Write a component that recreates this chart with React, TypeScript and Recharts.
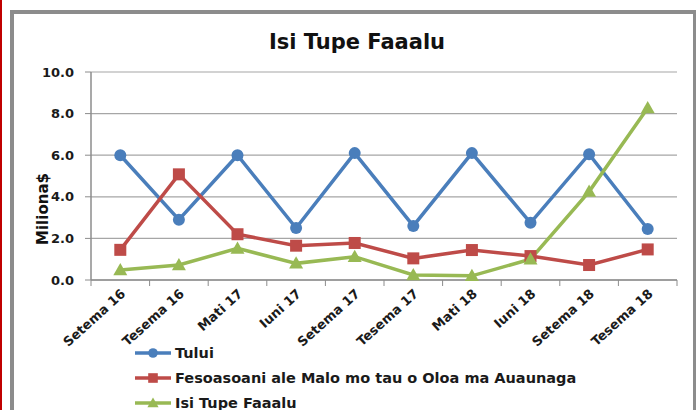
import React from 'react';
import { LineChart, Line, XAxis, YAxis, CartesianGrid, Legend } from 'recharts';

const categories = ['Setema 16', 'Tesema 16', 'Mati 17', 'Iuni 17', 'Setema 17', 'Tesema 17', 'Mati 18', 'Iuni 18', 'Setema 18', 'Tesema 18'];
const tului = [6.0, 2.9, 6.0, 2.5, 6.1, 2.6, 6.1, 2.75, 6.05, 2.45];
const fesoasoani = [1.45, 5.08, 2.2, 1.65, 1.78, 1.04, 1.44, 1.15, 0.72, 1.47];
const isiTupe = [0.48, 0.72, 1.52, 0.8, 1.12, 0.24, 0.2, 1.0, 4.25, 8.27];
const yTicks = [0, 2, 4, 6, 8, 10];

const data = categories.map((name, i) => ({
  idx: i,
  name,
  tului: tului[i],
  fesoasoani: fesoasoani[i],
  isiTupe: isiTupe[i],
}));

const FONT = '"DejaVu Sans", Verdana, sans-serif';
const BLUE = '#4a7ebb';
const RED = '#be4b48';
const GREEN = '#98b954';
const AXIS = '#8c8c8c';

const series = [
  { key: 'tului', name: 'Tului', color: BLUE, shape: 'circle' },
  { key: 'fesoasoani', name: 'Fesoasoani ale Malo mo tau o Oloa ma Auaunaga', color: RED, shape: 'square' },
  { key: 'isiTupe', name: 'Isi Tupe Faaalu', color: GREEN, shape: 'triangle' },
];

const Marker = ({ cx, cy, shape, color, size = 1 }: any) => {
  if (cx == null || cy == null) return null;
  if (shape === 'circle') return <circle cx={cx} cy={cy} r={6 * size} fill={color} />;
  if (shape === 'square') {
    const s = 6 * size;
    return <rect x={cx - s} y={cy - s} width={s * 2} height={s * 2} fill={color} />;
  }
  const t = 7 * size;
  return <polygon points={`${cx},${cy - t} ${cx + t},${cy + t * 0.75} ${cx - t},${cy + t * 0.75}`} fill={color} />;
};

const BAND = 58.6;

const XTick = ({ x, y, payload, index }: any) => (
  <g>
    <line x1={x - BAND / 2} y1={y - 8} x2={x - BAND / 2} y2={y - 2} stroke={AXIS} />
    {index === categories.length - 1 && (
      <line x1={x + BAND / 2} y1={y - 8} x2={x + BAND / 2} y2={y - 2} stroke={AXIS} />
    )}
    <text
      x={x + 6}
      y={y + 7}
      transform={`rotate(-42 ${x + 6} ${y + 7})`}
      textAnchor="end"
      fontSize={13}
      fontWeight={700}
      fill="#1a1a1a"
      fontFamily={FONT}
    >
      {categories[payload.value]}
    </text>
  </g>
);

const LegendContent = () => (
  <div style={{ fontFamily: FONT }}>
    {series.map((s) => (
      <div key={s.key} style={{ display: 'flex', alignItems: 'center', height: 25 }}>
        <svg width={38} height={16}>
          <line x1={0} y1={8} x2={36} y2={8} stroke={s.color} strokeWidth={3.5} />
          <Marker cx={18} cy={8} shape={s.shape} color={s.color} size={0.8} />
        </svg>
        <span style={{ fontSize: 14.5, fontWeight: 700, color: '#1a1a1a', marginLeft: 2 }}>{s.name}</span>
      </div>
    ))}
  </div>
);

export default function App() {
  return (
    <div style={{ position: 'absolute', left: 0, top: 0, width: 696, height: 410, background: '#fff', overflow: 'hidden' }}>
      <div style={{ position: 'absolute', left: 0, top: 0, width: 2, height: 410, background: '#c00000' }} />
      <div style={{ position: 'absolute', left: 10, top: 10, width: 679, height: 420, border: '4px solid #8c8c8c', borderRight: '3px solid #8c8c8c' }} />
      <div
        style={{
          position: 'absolute',
          left: 0,
          width: 714,
          top: 30,
          textAlign: 'center',
          fontFamily: FONT,
          fontWeight: 700,
          fontSize: 21,
          color: '#111',
        }}
      >
        Isi Tupe Faaalu
      </div>
      <div style={{ position: 'absolute', left: 0, top: 0 }}>
        <LineChart width={696} height={410} data={data} margin={{ top: 72, right: 19, bottom: 70, left: 31 }}>
          <CartesianGrid vertical={false} stroke="#a6a6a6" strokeWidth={1.2} />
          <XAxis
            dataKey="idx"
            type="number"
            domain={[-0.5, 9.5]}
            ticks={data.map((d) => d.idx)}
            interval={0}
            height={60}
            tickLine={false}
            axisLine={{ stroke: AXIS, strokeWidth: 1.5 }}
            tick={<XTick />}
          />
          <YAxis
            domain={[0, 10]}
            ticks={yTicks}
            width={60}
            tickFormatter={(v: number) => v.toFixed(1)}
            tick={{ fontSize: 13, fontWeight: 700, fill: '#1a1a1a', fontFamily: FONT, dx: -9 }}
            tickLine={{ stroke: AXIS }}
            tickSize={6}
            axisLine={{ stroke: AXIS, strokeWidth: 1.5 }}
            label={{
              value: 'Miliona$',
              angle: -90,
              position: 'center',
              dx: -18,
              dy: 33,
              style: { fontSize: 15, fontWeight: 700, fill: '#111', fontFamily: FONT },
            }}
          />
          {series.map((s) => (
            <Line
              key={s.key}
              dataKey={s.key}
              name={s.name}
              stroke={s.color}
              strokeWidth={3.5}
              isAnimationActive={false}
              dot={(p: any) => <Marker key={`${s.key}-${p.index}`} cx={p.cx} cy={p.cy} shape={s.shape} color={s.color} />}
            />
          ))}
          <Legend
            layout="vertical"
            align="center"
            verticalAlign="middle"
            content={<LegendContent />}
            wrapperStyle={{ position: 'absolute', left: 135, top: 340, width: 520 }}
          />
        </LineChart>
      </div>
    </div>
  );
}
